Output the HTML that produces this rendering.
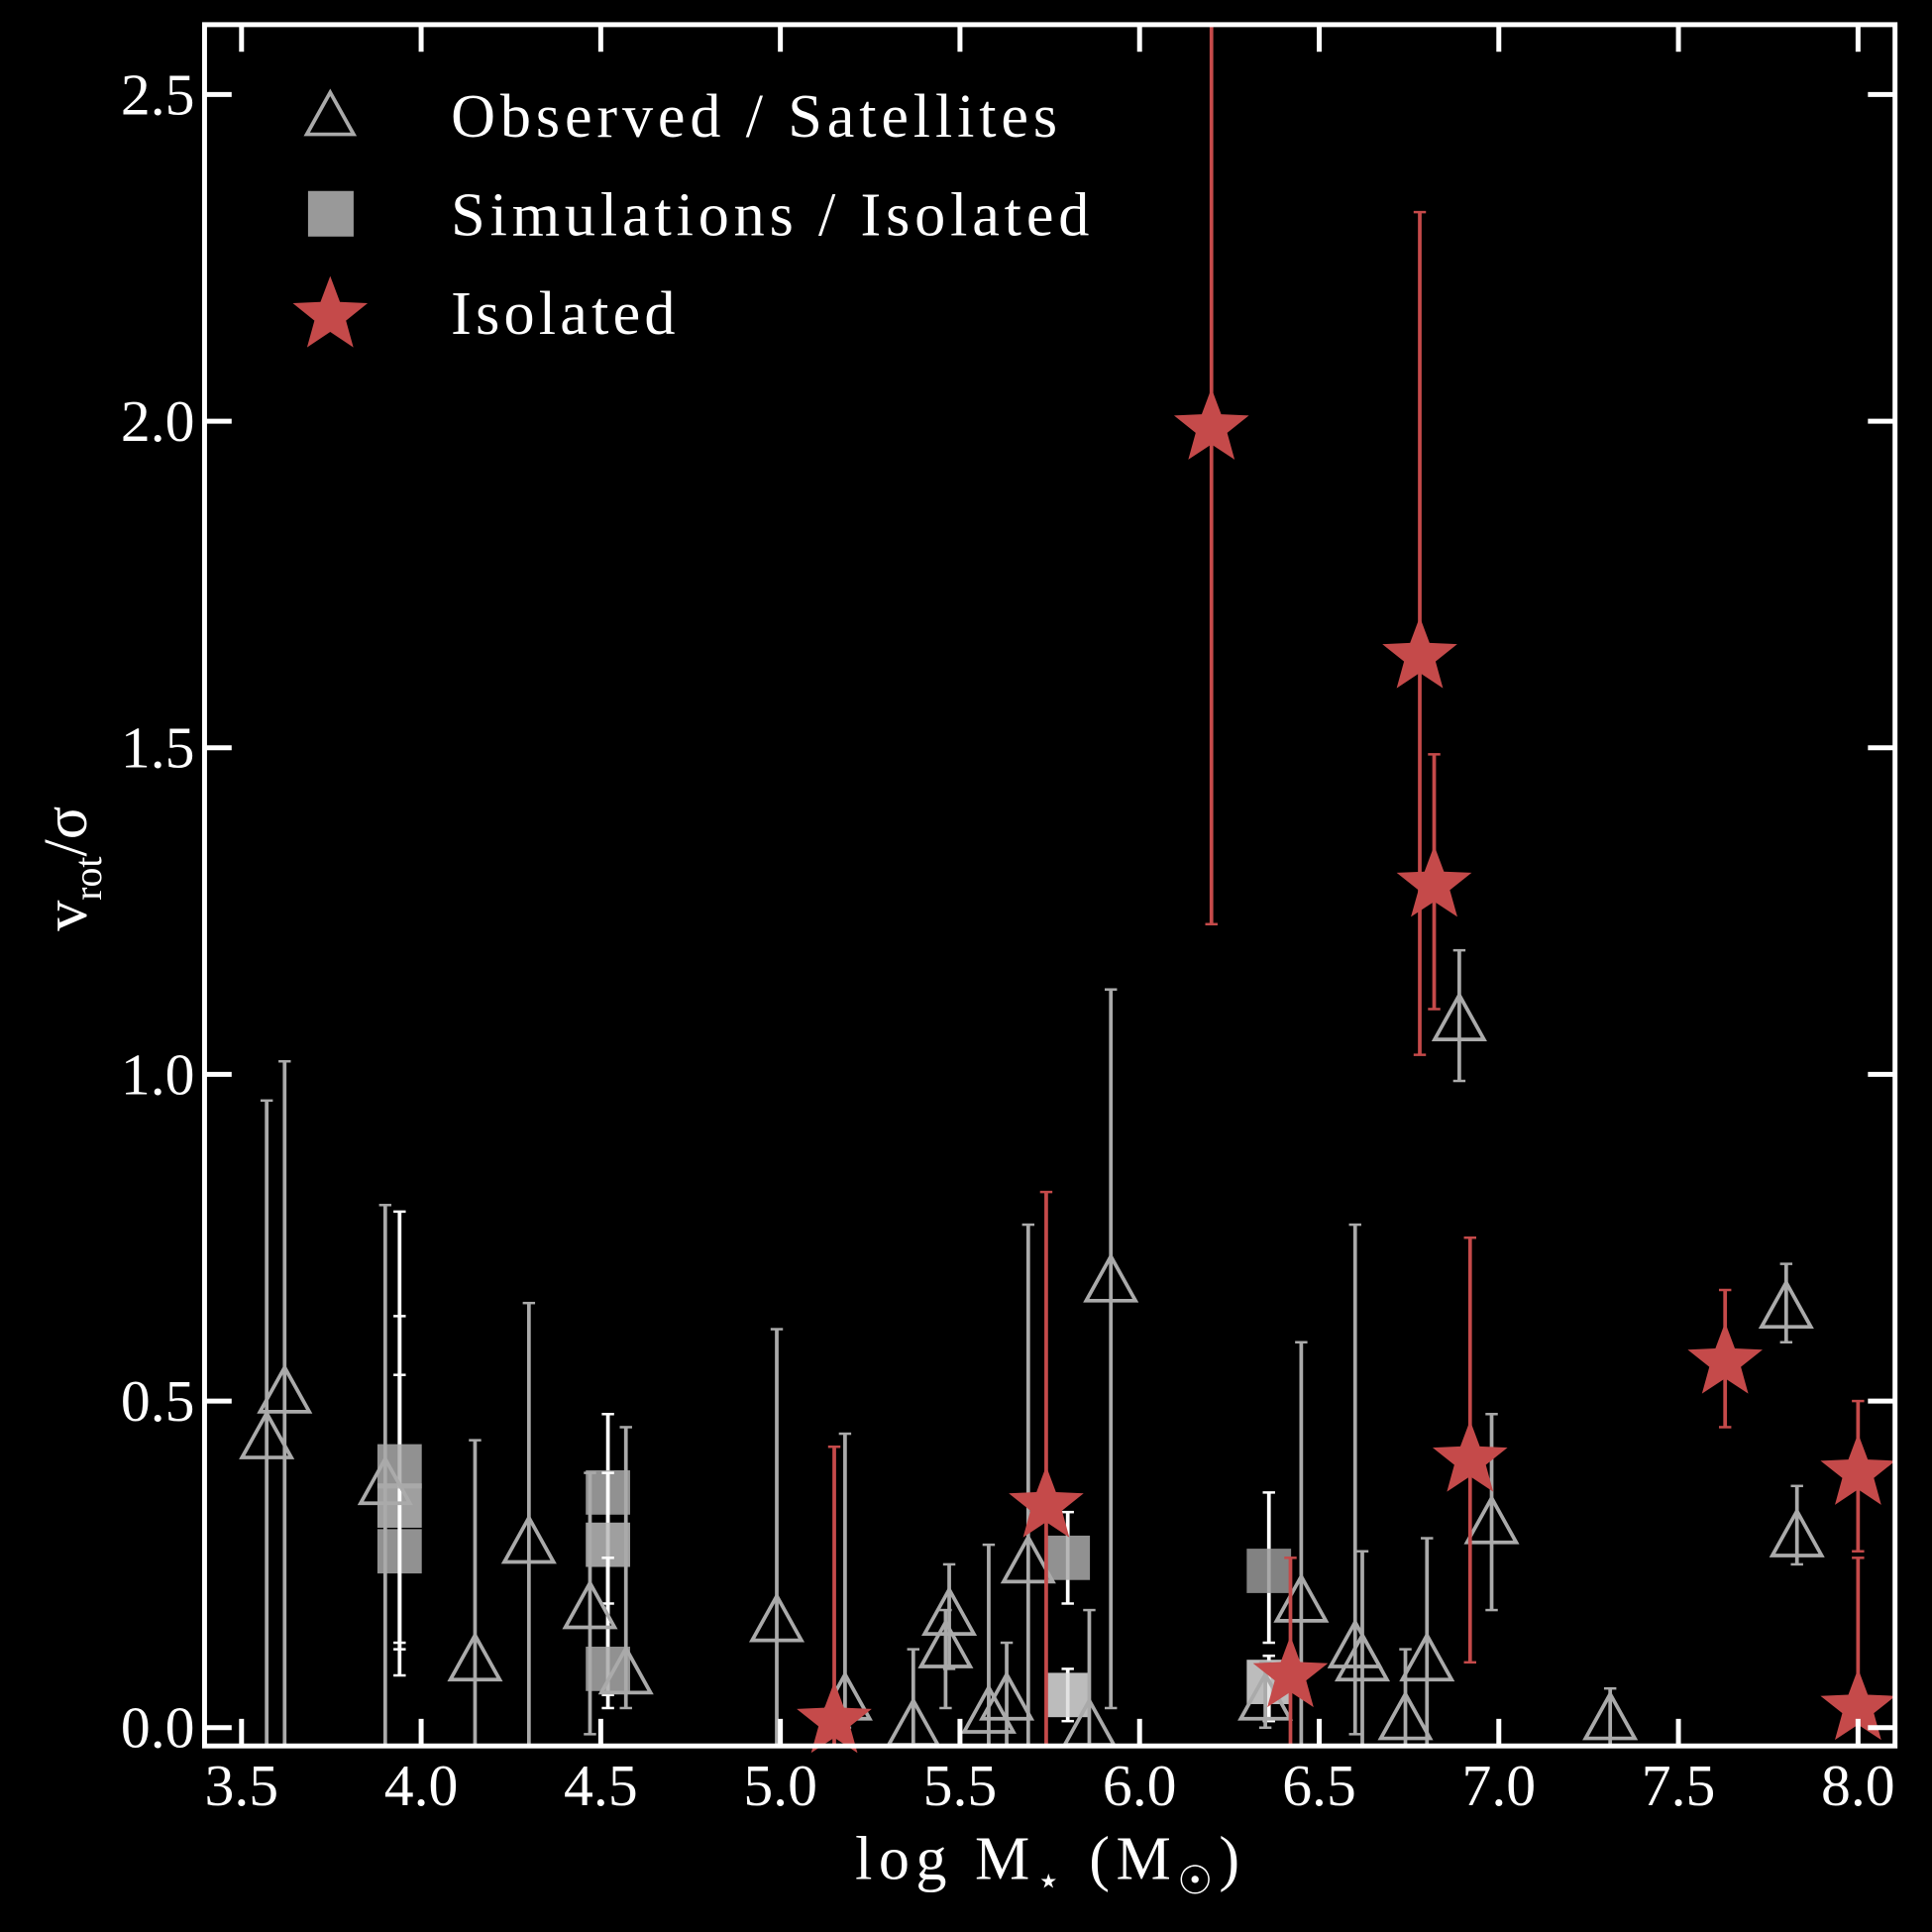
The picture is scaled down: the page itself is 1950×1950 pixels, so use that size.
<!DOCTYPE html>
<html><head><meta charset="utf-8"><style>
html,body{margin:0;padding:0;background:#000;}
svg{display:block;}
text{font-family:"Liberation Serif",serif;fill:#fff;}
</style></head><body>
<svg id="chart" width="1950" height="1950" viewBox="0 0 1568 1568" xmlns="http://www.w3.org/2000/svg">
<rect x="0" y="0" width="1568" height="1568" fill="#000"/>
<g id="marks"></g>
<rect x="166" y="20" width="1372" height="1397" fill="none" stroke="#fff" stroke-width="4"/>
<g id="ticks"></g>
<g>
<polygon points="268,75 249,109 287,109" fill="#000" stroke="#aaa" stroke-width="3"/>
<text x="366" y="111" font-size="50" textLength="492" lengthAdjust="spacing">Observed / Satellites</text>
<rect x="250" y="155" width="37" height="37" fill="#999"/>
<text x="366" y="191" font-size="50" textLength="518" lengthAdjust="spacing">Simulations / Isolated</text>
<polygon id="legstar" fill="#c54a4a"/>
<text x="366" y="271" font-size="50" textLength="182" lengthAdjust="spacing">Isolated</text>
</g>
<text x="850" y="1525" font-size="50" text-anchor="middle" textLength="312" lengthAdjust="spacing">log M<tspan font-size="32" dy="12">⋆</tspan><tspan dy="-12"> (M</tspan><tspan font-size="32" dy="12">☉</tspan><tspan dy="-12">)</tspan></text>
<text transform="translate(70,705) rotate(-90)" font-size="50" text-anchor="middle">v<tspan font-size="32" dy="12">rot</tspan><tspan dy="-12">/σ</tspan></text>
</svg>
<script>
const xTicks=[3.5,4.0,4.5,5.0,5.5,6.0,6.5,7.0,7.5,8.0];
const yTicks=[0.0,0.5,1.0,1.5,2.0,2.5];
// triangles: observed / satellites
const triX=[3.57,3.62,3.90,4.15,4.30,4.47,4.57,4.99,5.18,5.37,5.47,5.46,5.58,5.63,5.69,5.86,5.92,6.35,6.45,6.60,6.62,6.74,6.80,6.89,6.98,7.31,7.80,7.83];
const triY=[0.44,0.51,0.37,0.10,0.28,0.18,0.08,0.16,0.04,0.00,0.17,0.12,0.02,0.04,0.25,0.00,0.68,0.04,0.19,0.12,0.10,0.01,0.10,1.08,0.31,0.01,0.64,0.29];
const triLo=[-0.05,-0.05,-0.05,-0.05,-0.05,-0.01,0.03,-0.05,0.00,-0.05,0.09,0.03,-0.03,-0.03,-0.05,-0.05,0.03,0.00,-0.05,-0.01,-0.03,-0.03,-0.03,0.99,0.18,-0.03,0.59,0.25];
const triHi=[0.96,1.02,0.80,0.44,0.65,0.39,0.46,0.61,0.45,0.12,0.25,0.18,0.28,0.13,0.77,0.18,1.13,0.10,0.59,0.77,0.27,0.12,0.29,1.19,0.48,0.06,0.71,0.37];
// squares: simulations / isolated
const sqX=[3.94,3.94,3.94,4.52,4.52,4.52,5.80,5.80,6.36,6.36];
const sqY=[0.27,0.34,0.40,0.36,0.28,0.09,0.26,0.05,0.24,0.07];
const sqLo=[0.08,0.13,0.12,0.03,0.19,0.05,0.19,0.01,0.13,0.01];
const sqHi=[0.79,0.54,0.63,0.48,0.39,0.26,0.33,0.09,0.36,0.11];
const sqShade=["#aaa","#bbb","#aaa","#aaa","#bbb","#aaa","#aaa","#ddd","#999","#ddd"];
// stars: isolated
const stX=[5.15,5.74,6.20,6.78,6.82,6.92,6.42,7.63,8.00,8.00];
const stY=[0.01,0.34,1.99,1.64,1.29,0.41,0.08,0.56,0.39,0.03];
const stLo=[-0.05,-0.05,1.23,1.03,1.10,0.10,-0.05,0.46,0.27,-0.05];
const stHi=[0.43,0.82,2.70,2.32,1.49,0.75,0.26,0.67,0.50,0.26];

const X0=166,X1=1538,Y0=1417,Y1=20,xmin=3.397,xmax=8.103,ymin=-0.028,ymax=2.607;
function sx(v){return X0+(v-xmin)/(xmax-xmin)*(X1-X0);}
function sy(v){return Y0-(v-ymin)/(ymax-ymin)*(Y0-Y1);}
const NS="http://www.w3.org/2000/svg";
const marks=document.getElementById('marks');
function mk(tag,attrs,parent){const e=document.createElementNS(NS,tag);for(const k in attrs)e.setAttribute(k,attrs[k]);(parent||marks).appendChild(e);return e;}
function clampY(v){return Math.max(Y1,Math.min(Y0,sy(v)));}
function errbar(x,lo,hi,col,w,name){
  const g=mk('g',{});
  
  
  const px=sx(x),a=clampY(lo),b=clampY(hi);
  mk('line',{x1:px,x2:px,y1:a,y2:b,stroke:col,'stroke-width':w},g);
  if(lo>ymin) mk('line',{x1:px-5,x2:px+5,y1:a,y2:a,stroke:col,'stroke-width':2},g);
  if(hi<ymax) mk('line',{x1:px-5,x2:px+5,y1:b,y2:b,stroke:col,'stroke-width':2},g);
}
function starPts(cx,cy,R){const r=R*0.42;let p=[];for(let i=0;i<10;i++){const a=-Math.PI/2+i*Math.PI/5;const rr=i%2?r:R;p.push((cx+rr*Math.cos(a)).toFixed(1)+','+(cy+rr*Math.sin(a)).toFixed(1));}return p.join(' ');}
document.getElementById('legstar').setAttribute('points',starPts(268,256,32));

for(let i=0;i<sqX.length;i++){
  errbar(sqX[i],sqLo[i],sqHi[i],'#fff',3,'sim-errorbar');
  const r=mk('rect',{x:sx(sqX[i])-18,y:sy(sqY[i])-18,width:36,height:36,fill:sqShade[i],'fill-opacity':0.85});
  
  
}
for(let i=0;i<triX.length;i++){
  errbar(triX[i],triLo[i],triHi[i],'#aaa',3,'obs-errorbar');
  const cx=sx(triX[i]),cy=sy(triY[i]);
  const t=mk('polygon',{points:`${cx},${cy-22} ${cx-20},${cy+14} ${cx+20},${cy+14}`,fill:'none',stroke:'#aaa','stroke-width':3});
  
  
}
for(let i=0;i<stX.length;i++){
  errbar(stX[i],stLo[i],stHi[i],'#c54a4a',3,'iso-errorbar');
  const s=mk('polygon',{points:starPts(sx(stX[i]),sy(stY[i]),32),fill:'#c54a4a'});
  
  
}
const tk=document.getElementById('ticks');
xTicks.forEach(v=>{const px=sx(v);
  mk('line',{x1:px,x2:px,y1:Y0,y2:Y0-22,stroke:'#fff','stroke-width':4},tk);
  mk('line',{x1:px,x2:px,y1:Y1,y2:Y1+22,stroke:'#fff','stroke-width':4},tk);
  const t=mk('text',{x:px,y:1465,'font-size':48,'text-anchor':'middle'},tk);t.textContent=v.toFixed(1);
  
  
});
yTicks.forEach(v=>{const py=sy(v);
  mk('line',{x1:X0,x2:X0+22,y1:py,y2:py,stroke:'#fff','stroke-width':4},tk);
  mk('line',{x1:X1,x2:X1-22,y1:py,y2:py,stroke:'#fff','stroke-width':4},tk);
  const t=mk('text',{x:158,y:py+16,'font-size':48,'text-anchor':'end'},tk);t.textContent=v.toFixed(1);
  
  
});
</script>
</body></html>
